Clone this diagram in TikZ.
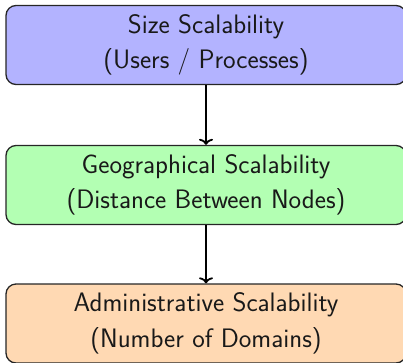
\documentclass[tikz,border=0pt]{standalone}
\usetikzlibrary{arrows.meta}
\tikzset{
  stage/.style={draw=black!85, line width=1.3pt, rounded corners=10pt,
    minimum width=400pt, minimum height=79pt, align=center,
    font=\sffamily\fontsize{26.7pt}{35.5pt}\selectfont, text=black!90},
  flow/.style={line width=1.8pt, -{To[length=6pt,width=14pt]}}
}
\definecolor{sizefill}{RGB}{179,179,255}
\definecolor{geofill}{RGB}{179,255,179}
\definecolor{adminfill}{RGB}{255,217,179}
\begin{document}
\begin{tikzpicture}[x=1pt,y=1pt]
  \useasboundingbox (0,0) rectangle (403,-362);
  \node[stage, fill=sizefill]  (size)  at (206,-45)    {Size Scalability\\(Users / Processes)};
  \node[stage, fill=geofill]   (geo)   at (206,-185)   {Geographical Scalability\\(Distance Between Nodes)};
  \node[stage, fill=adminfill] (admin) at (206,-323.5) {Administrative Scalability\\(Number of Domains)};
  \draw[flow] (size) -- (geo);
  \draw[flow] (geo) -- (admin);
\end{tikzpicture}
\end{document}
